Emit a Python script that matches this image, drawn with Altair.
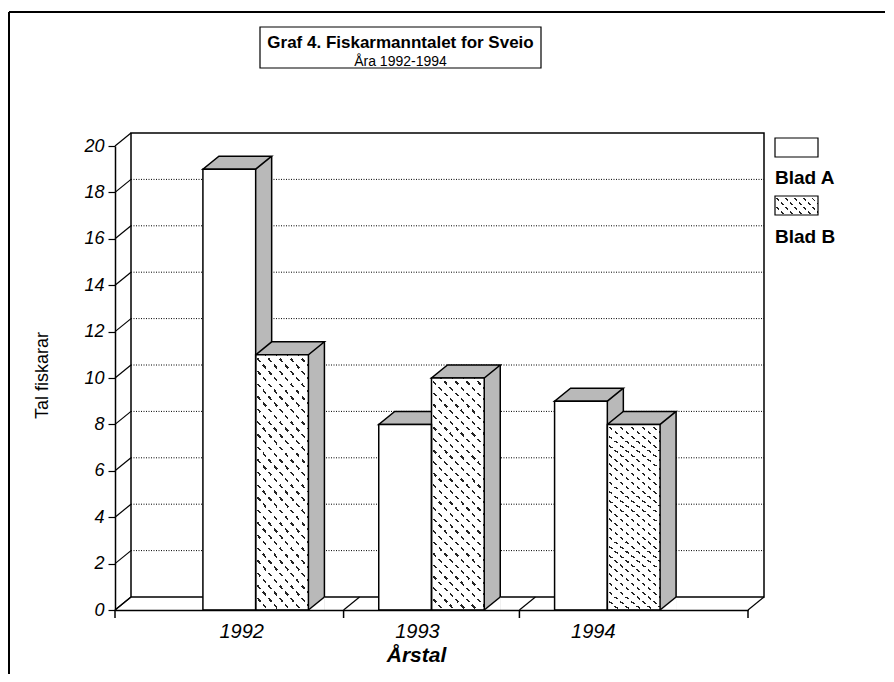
import altair as alt
import pandas as pd

# ---------------- data ----------------
years = ["1992", "1993", "1994"]
series = ["Blad A", "Blad B"]
blad_a = [19, 8, 9]
blad_b = [11, 10, 8]
y_ticks = [0, 2, 4, 6, 8, 10, 12, 14, 16, 18, 20]

title_text = "Graf 4. Fiskarmanntalet for Sveio"
subtitle_text = "Åra 1992-1994"
x_title = "Årstal"
y_title = "Tal fiskarar"

rows = []
for i, yr in enumerate(years):
    rows.append({"year": yr, "serie": series[0], "value": blad_a[i]})
    rows.append({"year": yr, "serie": series[1], "value": blad_b[i]})
df = pd.DataFrame(rows)
ticks_df = pd.DataFrame({"tick": y_ticks})
grid_df = pd.DataFrame({"tick": y_ticks[1:-1]})
inner_years_df = pd.DataFrame({"year": years[:-1]})
one = pd.DataFrame({"t": [title_text]})
sub = pd.DataFrame({"t": [subtitle_text]})
leg_a = pd.DataFrame({"t": [series[0]]})
leg_b = pd.DataFrame({"t": [series[1]]})

# ---------------- layout / style ----------------
W, H = 633, 464
DX, DY = 16, -13
PI, PO = 0.4, 0.5
STEP = W / (len(years) - PI + 2 * PO)
BW = STEP * (1 - PI) / len(series)
h = BW / 2

FONT = "Liberation Sans"
SIDE = "#b9b9b9"
LW = 1.5
CLEAR = "rgba(255,255,255,0)"


def stripes(w, hh, n, back, ink, bg, frac):
    """hatch fill as a repeating linear gradient (45 degree lines)."""
    r = w / hh
    q = (1 + r) / (1 + r * r)
    p = r * q
    if back:   # "\" lines
        x1, y1, x2, y2 = 0, 1, p, 1 - q
    else:      # "/" lines
        x1, y1, x2, y2 = 0, 0, p, q
    stops = []
    for i in range(n):
        a, b, c = i / n, (i + frac) / n, (i + 1) / n
        stops += [{"offset": a, "color": ink}, {"offset": b, "color": ink},
                  {"offset": b, "color": bg}, {"offset": c, "color": bg}]
    return {"gradient": "linear", "x1": x1, "y1": y1, "x2": x2, "y2": y2, "stops": stops}


HATCH = stripes(BW, 224, 25, True, "#222222", "white", 0.2)
MASK = stripes(BW, 224, 25, False, "white", CLEAR, 0.45)
HATCH_L = stripes(43, 19, 7, True, "#222222", "white", 0.2)
MASK_L = stripes(43, 19, 7, False, "white", CLEAR, 0.45)

xs = alt.Scale(domain=years, paddingInner=PI, paddingOuter=PO)
xo = alt.Scale(domain=series, paddingInner=0, paddingOuter=0)
ys = alt.Scale(domain=[0, 20], nice=False, zero=True)

X_AXIS = alt.Axis(domain=True, domainColor="black", domainWidth=LW, ticks=False,
                  labelFont=FONT, labelFontSize=20, labelFontStyle="italic",
                  labelColor="black", labelAngle=0, labelPadding=11, labelOffset=-14,
                  titleFont=FONT, titleFontSize=21, titleFontStyle="italic",
                  titleFontWeight="bold", titleColor="black", titleX=301, titleY=45,
                  titleBaseline="middle", zindex=1)
Y_AXIS = alt.Axis(values=y_ticks, grid=False, domain=True, domainColor="black",
                  domainWidth=LW, ticks=True, tickSize=7, tickColor="black",
                  tickWidth=1.2, labelFont=FONT, labelFontSize=18,
                  labelFontStyle="italic", labelColor="black", labelPadding=4,
                  titleFont=FONT, titleFontSize=18, titleFontWeight="normal",
                  titleColor="black", titleX=-73, titleY=229,
                  titleBaseline="middle", zindex=1)

Xn = alt.X("year:N", scale=xs, axis=X_AXIS, title=x_title)
XO = alt.XOffset("serie:N", scale=xo)
Yv = alt.Y("value:Q", scale=ys, axis=Y_AXIS, title=y_title)
Yt = alt.Y("tick:Q", scale=ys, axis=Y_AXIS, title=y_title)

# ---------------- frame & title box ----------------
frame_left = alt.Chart(one).mark_rule(color="black", strokeWidth=2).encode(
    x=alt.value(-106), y=alt.value(-134), y2=alt.value(H + 200))
frame_top = alt.Chart(one).mark_rule(color="black", strokeWidth=2).encode(
    x=alt.value(-106), x2=alt.value(W + 137), y=alt.value(-134))
title_box = alt.Chart(one).mark_rect(fill="white", stroke="black", strokeWidth=1.2).encode(
    x=alt.value(145), x2=alt.value(426), y=alt.value(-119), y2=alt.value(-78))
title_t = alt.Chart(one).mark_text(font=FONT, fontSize=17, fontWeight="bold", color="black",
                                   align="center", baseline="middle").encode(
    x=alt.value(285.5), y=alt.value(-103), text="t:N")
sub_t = alt.Chart(sub).mark_text(font=FONT, fontSize=14, color="black",
                                 align="center", baseline="middle").encode(
    x=alt.value(285.5), y=alt.value(-84), text="t:N")

# ---------------- walls, grid, floor ----------------
back_wall = alt.Chart(one).mark_rect(fill="white", stroke="black", strokeWidth=LW).encode(
    x=alt.value(DX), x2=alt.value(W + DX), y=alt.value(DY), y2=alt.value(H + DY))

grid = alt.Chart(grid_df).mark_rule(color="black", strokeWidth=1, strokeDash=[1, 1.5],
                                    yOffset=DY).encode(
    y=Yt, x=alt.value(DX), x2=alt.value(W + DX))

diag_path = f"M0,0L{DX},{DY}"
down_path = "M0,0L0,8"
PT = dict(size=4, filled=False, stroke="black", opacity=1)

wall_diag = alt.Chart(ticks_df).mark_point(shape=diag_path, strokeWidth=1.2, **PT).encode(
    x=alt.value(0), y=Yt)

floor_diag_l = alt.Chart(one).mark_point(shape=diag_path, strokeWidth=1.2, **PT).encode(
    x=alt.value(0), y=alt.value(H))
floor_diag_r = alt.Chart(one).mark_point(shape=diag_path, strokeWidth=1.2, **PT).encode(
    x=alt.value(W), y=alt.value(H))
floor_diag_mid = alt.Chart(inner_years_df).mark_point(
    shape=diag_path, strokeWidth=1.2, xOffset=STEP / 2, **PT).encode(x=Xn, y=alt.value(H))
tick_l = alt.Chart(one).mark_point(shape=down_path, strokeWidth=1.5, **PT).encode(
    x=alt.value(0), y=alt.value(H))
tick_r = alt.Chart(one).mark_point(shape=down_path, strokeWidth=1.5, **PT).encode(
    x=alt.value(W), y=alt.value(H))
tick_mid = alt.Chart(inner_years_df).mark_point(
    shape=down_path, strokeWidth=1.5, xOffset=STEP / 2, **PT).encode(x=Xn, y=alt.value(H))

# ---------------- 3D bars ----------------
side_layers = []
for k, s in enumerate(series):
    base = alt.Chart(df).transform_filter(alt.datum.serie == s)
    side_layers.append(
        base.mark_rule(color=SIDE, strokeWidth=DX, xOffset=k * BW + DX / 2, yOffset=DY).encode(
            x=Xn, y=Yv, y2=alt.Y2(datum=0)))

tri_path = f"M{h},0L{h + DX},{DY}L{h + DX},1L{h},1Z"
bottom_tri = alt.Chart(df).mark_point(shape=tri_path, size=4, filled=True, fill="white",
                                      strokeWidth=0, opacity=1).encode(
    x=Xn, xOffset=XO, y=alt.value(H))
bottom_edge = alt.Chart(df).mark_point(shape=f"M{h},0L{h + DX},{DY}", strokeWidth=LW,
                                       **PT).encode(x=Xn, xOffset=XO, y=alt.value(H))

edge_layers = []
for k, s in enumerate(series):
    base = alt.Chart(df).transform_filter(alt.datum.serie == s)
    edge_layers.append(
        base.mark_rule(color="black", strokeWidth=LW, xOffset=k * BW + DX,
                       yOffset=DY, y2Offset=DY).encode(x=Xn, y=Yv, y2=alt.Y2(datum=0)))

top_path = f"M{-h},0L{h},0L{h + DX},{DY}L{-h + DX},{DY}Z"
top = alt.Chart(df).mark_point(shape=top_path, size=4, filled=True, fill=SIDE, stroke="black",
                               strokeWidth=LW, opacity=1).encode(
    x=Xn, xOffset=XO, y=Yv)

dfa = alt.Chart(df).transform_filter(alt.datum.serie == series[0])
dfb = alt.Chart(df).transform_filter(alt.datum.serie == series[1])
front_a = dfa.mark_bar(fill="white").encode(x=Xn, xOffset=XO, y=Yv)
front_b = dfb.mark_bar(fill=HATCH).encode(x=Xn, xOffset=XO, y=Yv)
front_b_mask = dfb.mark_bar(fill=MASK).encode(x=Xn, xOffset=XO, y=Yv)
front_outline = alt.Chart(df).mark_bar(fill="white", fillOpacity=0, stroke="black",
                                       strokeWidth=LW).encode(x=Xn, xOffset=XO, y=Yv)

# ---------------- legend (drawn) ----------------
sw_a = alt.Chart(one).mark_rect(fill="white", stroke="black", strokeWidth=1.2).encode(
    x=alt.value(660), x2=alt.value(703), y=alt.value(-8), y2=alt.value(11))
sw_b = alt.Chart(one).mark_rect(fill=HATCH_L).encode(
    x=alt.value(660), x2=alt.value(703), y=alt.value(50), y2=alt.value(69))
sw_b_mask = alt.Chart(one).mark_rect(fill=MASK_L).encode(
    x=alt.value(660), x2=alt.value(703), y=alt.value(50), y2=alt.value(69))
sw_b_out = alt.Chart(one).mark_rect(fill="white", fillOpacity=0, stroke="black",
                                    strokeWidth=1.2).encode(
    x=alt.value(660), x2=alt.value(703), y=alt.value(50), y2=alt.value(69))
lab_a = alt.Chart(leg_a).mark_text(font=FONT, fontSize=19, fontWeight="bold", color="black",
                                   align="left", baseline="middle").encode(
    x=alt.value(660), y=alt.value(32), text="t:N")
lab_b = alt.Chart(leg_b).mark_text(font=FONT, fontSize=19, fontWeight="bold", color="black",
                                   align="left", baseline="middle").encode(
    x=alt.value(660), y=alt.value(91), text="t:N")

chart = alt.layer(
    frame_left, frame_top, title_box, title_t, sub_t,
    back_wall, grid, wall_diag, floor_diag_l, floor_diag_r, floor_diag_mid,
    tick_l, tick_r, tick_mid,
    *side_layers, bottom_tri, bottom_edge, *edge_layers, top,
    front_a, front_b, front_b_mask, front_outline,
    sw_a, sw_b, sw_b_mask, sw_b_out, lab_a, lab_b,
).properties(
    width=W, height=H,
    autosize=alt.AutoSizeParams(type="none"),
    padding={"left": 107, "top": 138, "right": 138, "bottom": 64},
).configure_view(stroke="transparent")

chart.save("out.html", embed_options={"renderer": "svg", "actions": False})
